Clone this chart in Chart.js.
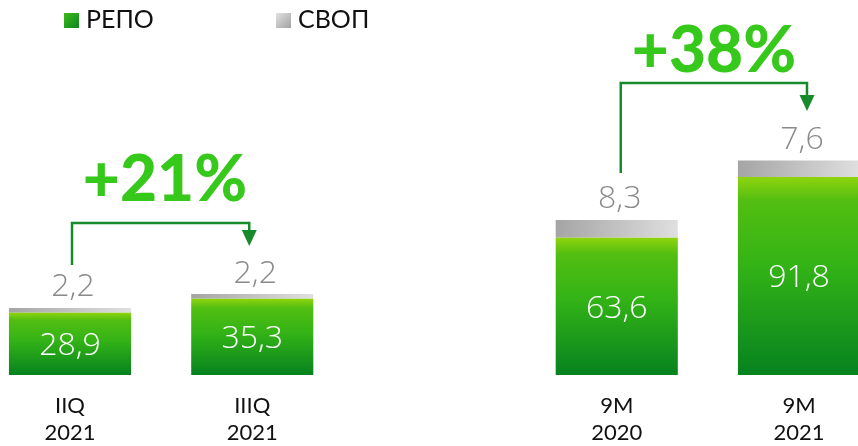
<!DOCTYPE html>
<html>
<head>
<meta charset="utf-8">
<script src="https://cdn.jsdelivr.net/npm/chart.js@4.4.1/dist/chart.umd.min.js"></script>
<style>
  html, body { margin: 0; padding: 0; background: #fff; }
  #wrap { width: 858px; height: 446px; position: relative; }
</style>
</head>
<body>
<div id="wrap"><canvas id="c" width="858" height="446"></canvas></div>
<script>
// Periods (the empty slot separates quarterly from 9-month figures)
const categories = [['IIQ', '2021'], ['IIIQ', '2021'], '', ['9M', '2020'], ['9M', '2021']];
// Series values
const repoValues = [28.9, 35.3, null, 63.6, 91.8];
const swapValues = [2.2, 2.2, null, 8.3, 7.6];
// Growth callouts between pairs of periods
const growthFrom = [0, 3];
const growthTo = [1, 4];
const growthText = ['+21%', '+38%'];

const FONT = 'Lato, "Open Sans", "DejaVu Sans", sans-serif';
const VALUE_FONT = '"Open Sans", Lato, "DejaVu Sans", sans-serif';
const fmt = v => v.toFixed(1).replace('.', ',');

// Callout geometry (pixels)
const calloutLayout = [
  { startY: 265, lineY: 223, tipY: 246, dxStart: 2, dxEnd: -3, textX: 165, textY: 201 },
  { startY: 173, lineY: 83, tipY: 111, dxStart: 4, dxEnd: 8, textX: 714, textY: 72 }
];
const legendLayout = [{ x: 64, y: 13 }, { x: 276, y: 13 }];

const finite = (...a) => a.every(Number.isFinite);

function repoFill(ctx) {
  const chart = ctx.chart;
  const ys = chart.scales && chart.scales.y;
  const v = repoValues[ctx.dataIndex];
  if (!ys || v == null) return '#2fae18';
  const top = ys.getPixelForValue(v), base = ys.getPixelForValue(0);
  if (!finite(top, base) || top === base) return '#2fae18';
  const g = chart.ctx.createLinearGradient(0, top, 0, base);
  g.addColorStop(0, '#8fd40e');
  g.addColorStop(0.12, '#52be11');
  g.addColorStop(0.45, '#33b316');
  g.addColorStop(1, '#06821f');
  return g;
}

function swapFill(ctx) {
  const chart = ctx.chart;
  const ys = chart.scales && chart.scales.y;
  const xs = chart.scales && chart.scales.x;
  const r = repoValues[ctx.dataIndex], s = swapValues[ctx.dataIndex];
  if (!ys || !xs || r == null) return '#c4c4c4';
  const top = ys.getPixelForValue(r + s), base = ys.getPixelForValue(r);
  const cx = xs.getPixelForValue(ctx.dataIndex);
  if (!finite(top, base, cx)) return '#c4c4c4';
  const g = chart.ctx.createLinearGradient(cx - 61, top, cx + 61, base);
  g.addColorStop(0, '#a4a4a4');
  g.addColorStop(1, '#e0e0e0');
  return g;
}

const labelsPlugin = {
  id: 'valueLabels',
  afterDraw(chart) {
    const c = chart.ctx;
    const repoMeta = chart.getDatasetMeta(0);
    const swapMeta = chart.getDatasetMeta(1);
    c.save();
    c.textAlign = 'center';
    c.textBaseline = 'alphabetic';
    c.font = '300 32px ' + VALUE_FONT;
    repoValues.forEach((v, i) => {
      if (v == null) return;
      const bar = repoMeta.data[i];
      const mid = (bar.y + bar.base) / 2;
      c.fillStyle = '#ffffff';
      c.fillText(fmt(v), bar.x, mid + 11.5);
      const sb = swapMeta.data[i];
      c.fillStyle = '#8a8a8a';
      c.fillText(fmt(swapValues[i]), sb.x + 3, sb.y - 11.5);
    });
    c.restore();
  }
};

const calloutPlugin = {
  id: 'growthCallouts',
  afterDraw(chart) {
    const c = chart.ctx;
    const xs = chart.scales.x;
    c.save();
    growthText.forEach((txt, k) => {
      const L = calloutLayout[k];
      const x1 = xs.getPixelForValue(growthFrom[k]) + L.dxStart;
      const x2 = xs.getPixelForValue(growthTo[k]) + L.dxEnd;
      c.strokeStyle = '#178b2b';
      c.fillStyle = '#178b2b';
      c.lineWidth = 2.5;
      c.beginPath();
      c.moveTo(x1, L.startY);
      c.lineTo(x1, L.lineY);
      c.lineTo(x2, L.lineY);
      c.lineTo(x2, L.tipY - 14);
      c.stroke();
      c.beginPath();
      c.moveTo(x2 - 7.5, L.tipY - 16);
      c.lineTo(x2 + 7.5, L.tipY - 16);
      c.lineTo(x2, L.tipY);
      c.closePath();
      c.fill();
      c.fillStyle = '#37c81c';
      c.font = '900 64px ' + FONT;
      c.textAlign = 'center';
      c.textBaseline = 'alphabetic';
      c.fillText(txt, L.textX, L.textY);
    });
    c.restore();
  }
};

const legendPlugin = {
  id: 'topLegend',
  afterDraw(chart) {
    const c = chart.ctx;
    c.save();
    chart.data.datasets.forEach((ds, k) => {
      const p = legendLayout[k];
      const g = c.createLinearGradient(p.x, p.y, p.x + 15, p.y + 15);
      if (k === 0) {
        g.addColorStop(0, '#3fbb1a');
        g.addColorStop(1, '#0a8620');
      } else {
        g.addColorStop(0, '#e2e2e2');
        g.addColorStop(1, '#a2a2a2');
      }
      c.fillStyle = g;
      c.fillRect(p.x, p.y, 15, 15);
      c.fillStyle = '#111111';
      c.font = '400 25px ' + FONT;
      c.textAlign = 'left';
      c.textBaseline = 'alphabetic';
      c.fillText(ds.label, p.x + 22, p.y + 15);
    });
    c.restore();
  }
};

new Chart(document.getElementById('c'), {
  type: 'bar',
  data: {
    labels: categories,
    datasets: [
      { label: 'РЕПО', data: repoValues, backgroundColor: repoFill, borderWidth: 0, clip: false },
      { label: 'СВОП', data: swapValues, backgroundColor: swapFill, borderWidth: 0, clip: false }
    ]
  },
  options: {
    responsive: false,
    animation: false,
    events: [],
    layout: { padding: { left: 70, right: 59, top: 73, bottom: 0 } },
    datasets: { bar: { categoryPercentage: 1, barPercentage: 0.67 } },
    plugins: { legend: { display: false }, tooltip: { enabled: false } },
    scales: {
      x: {
        stacked: true,
        offset: false,
        grid: { display: false },
        border: { display: false },
        afterFit(scale) { scale.height = 71; },
        ticks: {
          autoSkip: false,
          maxRotation: 0,
          padding: 10,
          color: '#111111',
          font: { family: FONT, size: 22, weight: '400', lineHeight: 1.2 }
        }
      },
      y: {
        stacked: true,
        display: false,
        min: 0,
        max: 140
      }
    }
  },
  plugins: [labelsPlugin, calloutPlugin, legendPlugin]
});
</script>
</body>
</html>
